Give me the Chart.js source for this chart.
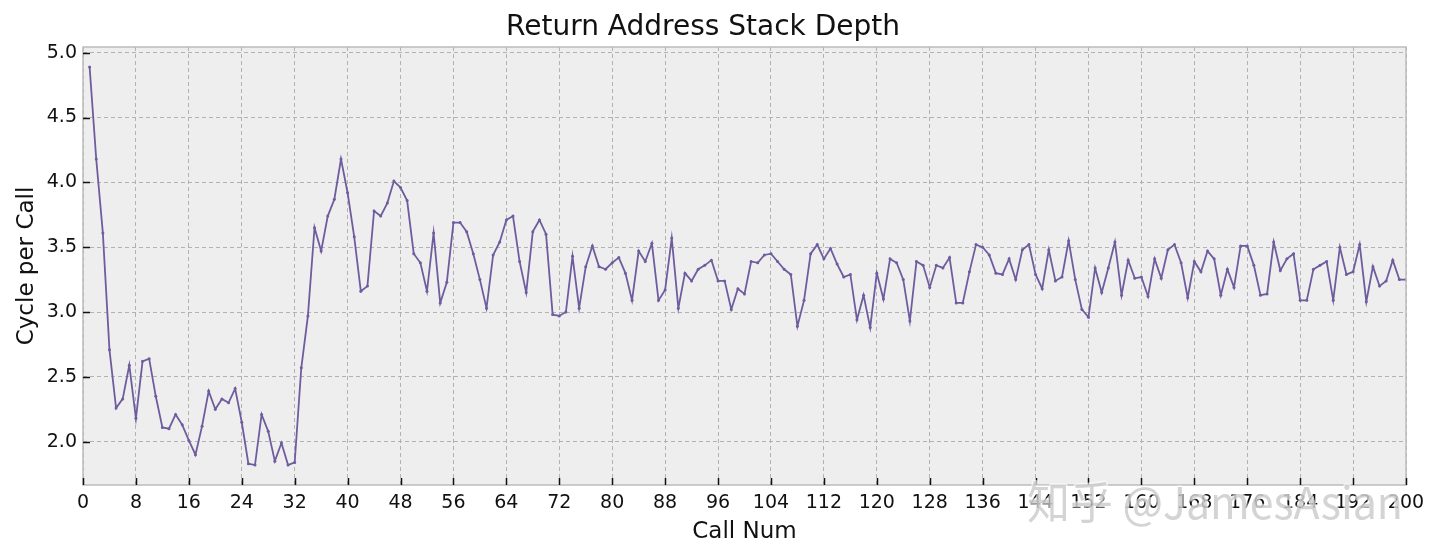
<!DOCTYPE html>
<html>
<head>
<meta charset="utf-8">
<script src="https://cdn.jsdelivr.net/npm/chart.js@4/dist/chart.umd.min.js"></script>
<style>
  html, body { margin: 0; padding: 0; background: #ffffff; }
  #wrap { width: 1440px; height: 557px; }
</style>
</head>
<body>
<div id="wrap"><canvas id="c" width="1440" height="557"></canvas></div>
<script>
// ---- data ----
const titleText = "Return Address Stack Depth";
const xLabel = "Call Num";
const yLabel = "Cycle per Call";
const xTicks = [0, 8, 16, 24, 32, 40, 48, 56, 64, 72, 80, 88, 96, 104, 112, 120, 128, 136, 144, 152, 160, 168, 176, 184, 192, 200];
const yTicks = [2.0, 2.5, 3.0, 3.5, 4.0, 4.5, 5.0];
const cyclePerCall = [
  4.89, 4.18, 3.61, 2.71, 2.26, 2.33, 2.59, 2.18, 2.62, 2.64,
  2.35, 2.11, 2.10, 2.21, 2.13, 2.01, 1.90, 2.12, 2.39, 2.25,
  2.33, 2.30, 2.41, 2.15, 1.83, 1.82, 2.21, 2.08, 1.85, 1.99,
  1.82, 1.84, 2.57, 2.97, 3.65, 3.47, 3.74, 3.87, 4.18, 3.92,
  3.58, 3.16, 3.20, 3.78, 3.74, 3.84, 4.01, 3.96, 3.86, 3.45,
  3.38, 3.16, 3.61, 3.07, 3.23, 3.69, 3.69, 3.62, 3.45, 3.25,
  3.03, 3.44, 3.54, 3.71, 3.74, 3.39, 3.15, 3.62, 3.71, 3.60,
  2.98, 2.97, 3.00, 3.43, 3.03, 3.35, 3.51, 3.35, 3.33, 3.38,
  3.42, 3.30, 3.09, 3.47, 3.39, 3.53, 3.09, 3.17, 3.57, 3.03,
  3.30, 3.24, 3.33, 3.36, 3.40, 3.24, 3.24, 3.02, 3.18, 3.14,
  3.39, 3.38, 3.44, 3.45, 3.39, 3.33, 3.29, 2.89, 3.09, 3.45,
  3.52, 3.41, 3.49, 3.37, 3.27, 3.29, 2.94, 3.13, 2.88, 3.30,
  3.10, 3.41, 3.38, 3.25, 2.93, 3.39, 3.36, 3.19, 3.36, 3.34,
  3.42, 3.07, 3.07, 3.31, 3.52, 3.50, 3.44, 3.30, 3.29, 3.41,
  3.25, 3.48, 3.52, 3.29, 3.18, 3.48, 3.24, 3.27, 3.55, 3.25,
  3.02, 2.96, 3.34, 3.15, 3.34, 3.54, 3.13, 3.40, 3.26, 3.27,
  3.12, 3.41, 3.26, 3.48, 3.52, 3.38, 3.11, 3.39, 3.31, 3.47,
  3.41, 3.13, 3.33, 3.19, 3.51, 3.51, 3.36, 3.13, 3.14, 3.54,
  3.32, 3.41, 3.45, 3.09, 3.09, 3.33, 3.36, 3.39, 3.09, 3.50,
  3.29, 3.31, 3.52, 3.08, 3.35, 3.20, 3.24, 3.40, 3.25, 3.25
];
const callNum = cyclePerCall.map((_, i) => i + 1);
const watermark = "知乎 @JamesAsian";

// ---- styling ----
const FONT = '"DejaVu Sans", "Liberation Sans", sans-serif';
const LINE_COLOR = '#6f5c9e';

const points = callNum.map((x, i) => ({ x: x, y: cyclePerCall[i] }));

const bgPlugin = {
  id: 'bg',
  beforeDraw(chart) {
    const { ctx, chartArea: a } = chart;
    ctx.save();
    ctx.fillStyle = '#eeeeee';
    ctx.fillRect(a.left, a.top, a.right - a.left, a.bottom - a.top);
    ctx.restore();
  },
  afterDraw(chart) {
    const { ctx, chartArea: a, scales } = chart;
    ctx.save();
    // spines
    ctx.strokeStyle = '#bcbcbc';
    ctx.lineWidth = 1.5;
    ctx.strokeRect(a.left, a.top, a.right - a.left, a.bottom - a.top);
    // inward ticks
    ctx.strokeStyle = '#111';
    ctx.lineWidth = 1.5;
    ctx.beginPath();
    xTicks.forEach(v => {
      const px = Math.round(scales.x.getPixelForValue(v)) + 0.5;
      ctx.moveTo(px, a.bottom);
      ctx.lineTo(px, a.bottom - 7);
    });
    yTicks.forEach(v => {
      const py = Math.round(scales.y.getPixelForValue(v)) + 0.5;
      ctx.moveTo(a.left, py);
      ctx.lineTo(a.left + 7, py);
    });
    ctx.stroke();
    // watermark
    ctx.font = '44px "Noto Sans CJK SC", "Noto Sans", sans-serif';
    const w = ctx.measureText(watermark).width;
    const targetW = 376;
    ctx.translate(1027, 519);
    ctx.scale(targetW / w, 1);
    ctx.textBaseline = 'alphabetic';
    ctx.lineJoin = 'round';
    ctx.strokeStyle = 'rgba(255,255,255,0.6)';
    ctx.lineWidth = 3;
    ctx.strokeText(watermark, 0, 0);
    ctx.fillStyle = 'rgba(195,195,195,0.72)';
    ctx.fillText(watermark, 0, 0);
    ctx.restore();
  }
};

new Chart(document.getElementById('c'), {
  type: 'line',
  data: {
    datasets: [{
      data: points,
      borderColor: LINE_COLOR,
      backgroundColor: LINE_COLOR,
      borderWidth: 1.8,
      pointRadius: 1.5,
      pointBorderWidth: 0,
      pointBackgroundColor: LINE_COLOR,
      tension: 0,
      fill: false
    }]
  },
  options: {
    responsive: false,
    devicePixelRatio: 1,
    animation: false,
    layout: { padding: { left: 0, right: 34, top: 0, bottom: 0 } },
    plugins: {
      legend: { display: false },
      tooltip: { enabled: false },
      title: {
        display: true,
        text: titleText,
        color: '#111',
        font: { family: FONT, size: 28, weight: 'normal' },
        padding: { top: 11, bottom: 2.4 }
      }
    },
    scales: {
      x: {
        type: 'linear',
        min: 0,
        max: 200,
        afterFit(scale) { scale.height = 72; },
        afterBuildTicks(scale) { scale.ticks = xTicks.map(v => ({ value: v })); },
        grid: { color: '#b2b2b2', lineWidth: 1, drawTicks: false },
        border: { display: false, dash: [4, 3] },
        ticks: {
          color: '#111',
          font: { family: FONT, size: 19 },
          padding: 7,
          maxRotation: 0,
          autoSkip: false,
          callback: v => String(v)
        },
        title: {
          display: true,
          text: xLabel,
          color: '#111',
          font: { family: FONT, size: 23 },
          padding: { top: 0, bottom: 11 }
        }
      },
      y: {
        type: 'linear',
        min: 1.666,
        max: 5.044,
        afterFit(scale) { scale.width = 83; },
        afterBuildTicks(scale) { scale.ticks = yTicks.map(v => ({ value: v })); },
        grid: { color: '#b2b2b2', lineWidth: 1, drawTicks: false },
        border: { display: false, dash: [4, 3] },
        ticks: {
          color: '#111',
          font: { family: FONT, size: 19 },
          padding: 6,
          autoSkip: false,
          callback: v => Number(v).toFixed(1)
        },
        title: {
          display: true,
          text: yLabel,
          color: '#111',
          font: { family: FONT, size: 23 },
          padding: { top: 13, bottom: 0 }
        }
      }
    }
  },
  plugins: [bgPlugin]
});
</script>
</body>
</html>
